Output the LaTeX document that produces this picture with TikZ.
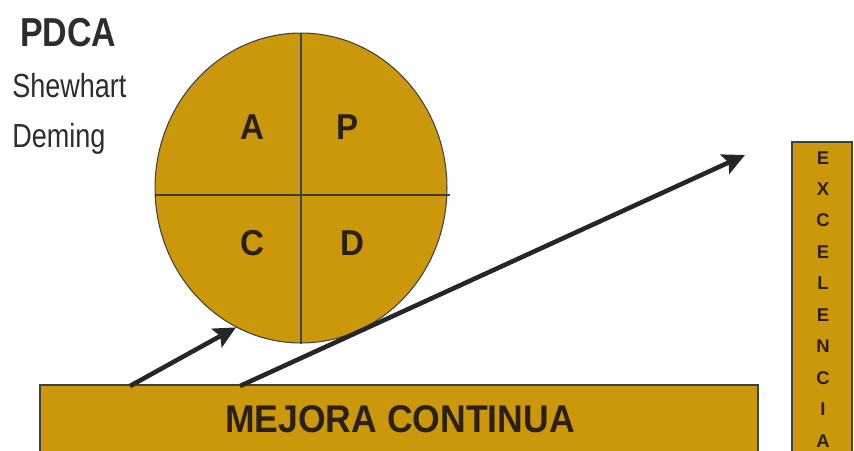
\documentclass[tikz,border=0pt]{standalone}
\usepackage{fontspec}
\setmainfont{Liberation Sans}
\usetikzlibrary{arrows.meta, positioning, shapes.geometric}
\definecolor{oro}{RGB}{202,152,10}
\definecolor{tinta}{RGB}{42,32,22}
\definecolor{gris}{RGB}{45,45,45}
\tikzset{
  barra/.style={draw=black!75, fill=oro, line width=0.6pt},
  flecha/.style={-{Stealth[length=4.4mm, width=4.2mm, inset=0.8mm]}, line width=2.6pt, draw=black!85},
  letra/.style={font=\fontsize{20.5}{20.5}\selectfont\bfseries, text=tinta, xscale=0.92},
  rotulo/.style={anchor=base west, inner sep=0, text=gris, xscale=0.81, font=\fontsize{19}{19}\selectfont},
}

\begin{document}
\begin{tikzpicture}[x=0.02cm, y=-0.02cm]
  \useasboundingbox (0,0) rectangle (854,450);

  % textos de la izquierda
  \node[anchor=base west, inner sep=0, text=gris, xscale=0.84, font=\fontsize{23}{23}\selectfont\bfseries] (pdca) at (20,46) {PDCA};
  \node[rotulo] (shewhart) at (12,97) {Shewhart};
  \node[rotulo] (deming) at (12,147) {Deming};

  % rueda de Deming
  \node[ellipse, barra, inner sep=0, minimum width=5.84cm, minimum height=6.2cm] (rueda) at (301,188) {};
  \draw[black!75, line width=0.6pt] (rueda.north) -- (rueda.south);
  \draw[black!75, line width=0.6pt] (rueda.west |- 0,195) -- (450,195);
  \node[letra] (a) at (252,127) {A};
  \node[letra] (p) at (348,127) {P};
  \node[letra] (c) at (252,243) {C};
  \node[letra] (d) at (352,243) {D};

  % bases
  \draw[barra] (40,460) rectangle (758,385);
  \node[font=\fontsize{22}{22}\selectfont\bfseries, text=tinta, xscale=0.92] (mejora) at (400,419) {MEJORA CONTINUA};
  \draw[barra] (792,460) rectangle (852,142);
  \node[text=tinta, font=\fontsize{10.5}{17.9}\selectfont\bfseries, align=center, anchor=north, inner sep=0] (excelencia) at (823,151)
    {E\\X\\C\\E\\L\\E\\N\\C\\I\\A};

  % flechas
  \coordinate (inicio1) at (130,386);
  \coordinate (inicio2) at (240,386);
  \coordinate (meta) at (745,155);
  \draw[flecha] (inicio1) -- (rueda.245);
  \draw[flecha] (inicio2) -- (meta);
\end{tikzpicture}
\end{document}
